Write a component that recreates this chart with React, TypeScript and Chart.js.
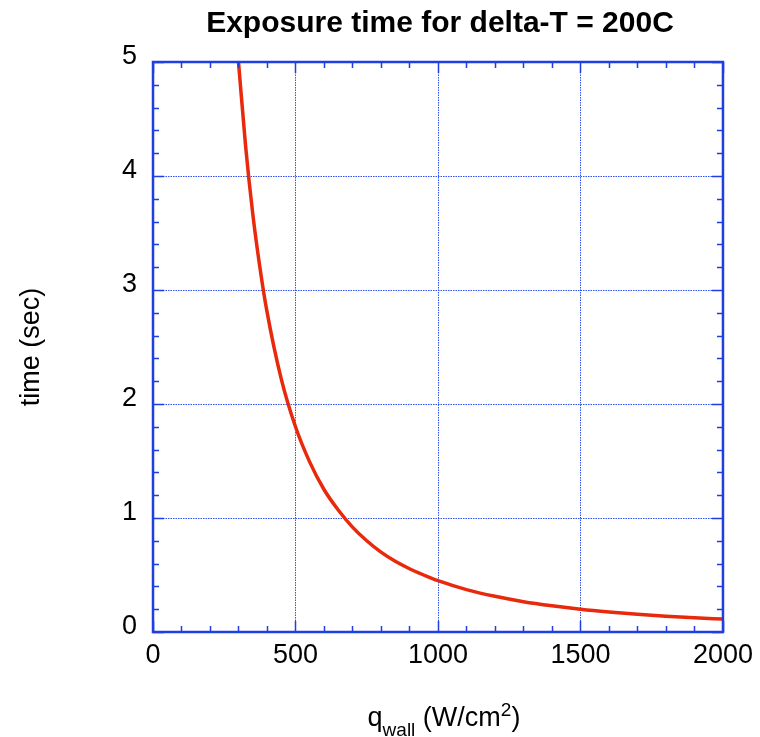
import React, { useEffect, useRef } from "react";
import { Chart, registerables } from "chart.js";

Chart.register(...registerables);

const chartTitle = "Exposure time for delta-T = 200C";
const yAxisTitle = "time (sec)";
const xTitleMain = "q";
const xTitleSub = "wall";
const xTitleRest = " (W/cm";
const xTitleSup = "2";
const xTitleEnd = ")";

const qValues = [300, 325, 350, 375, 400, 450, 500, 550, 600, 650, 700, 750, 800, 850, 900, 950, 1000, 1100, 1200, 1300, 1400, 1500, 1600, 1700, 1800, 1900, 2000];
const timeValues = [5.0, 4.26, 3.67, 3.2, 2.81, 2.22, 1.8, 1.49, 1.25, 1.07, 0.92, 0.8, 0.7, 0.62, 0.555, 0.5, 0.45, 0.372, 0.313, 0.266, 0.23, 0.2, 0.176, 0.156, 0.139, 0.125, 0.113];

const xMin = 0, xMax = 2000, xMajor = 500, xMinor = 100;
const yMin = 0, yMax = 5, yMajor = 1, yMinor = 0.2;

const FONT = "'Liberation Sans', Arial, Helvetica, sans-serif";
const BLUE = "#1f3fe0";
const GRID_BLUE = "#2f52f0";
const RED = "#e8290c";

const framePlugin = {
  id: "frameTicks",
  beforeDatasetsDraw(chart: any) {
    const { ctx, chartArea } = chart;
    const xs = chart.scales.x;
    const ys = chart.scales.y;
    const { left, right, top, bottom } = chartArea;
    ctx.save();
    ctx.strokeStyle = GRID_BLUE;
    ctx.lineWidth = 1;
    ctx.setLineDash([1.5, 1]);
    ctx.beginPath();
    for (let v = xMin + xMajor; v < xMax; v += xMajor) {
      const p = Math.round(xs.getPixelForValue(v)) + 0.5;
      ctx.moveTo(p, top); ctx.lineTo(p, bottom);
    }
    for (let v = yMin + yMajor; v < yMax; v += yMajor) {
      const p = Math.round(ys.getPixelForValue(v)) + 0.5;
      ctx.moveTo(left, p); ctx.lineTo(right, p);
    }
    ctx.stroke();
    ctx.restore();
  },
  afterDatasetsDraw(chart: any) {
    const { ctx, chartArea } = chart;
    const xs = chart.scales.x;
    const ys = chart.scales.y;
    const { left, right, top, bottom } = chartArea;
    ctx.save();
    ctx.strokeStyle = BLUE;
    ctx.lineWidth = 1.5;
    ctx.beginPath();
    for (let v = xMin; v <= xMax + 1e-6; v += xMinor) {
      const p = Math.round(xs.getPixelForValue(v)) + 0.5;
      const len = Math.abs(v % xMajor) < 1e-6 ? 11 : 6;
      ctx.moveTo(p, bottom); ctx.lineTo(p, bottom - len);
      ctx.moveTo(p, top); ctx.lineTo(p, top + len);
    }
    for (let i = 0; i <= Math.round((yMax - yMin) / yMinor); i++) {
      const v = yMin + i * yMinor;
      const p = Math.round(ys.getPixelForValue(v)) + 0.5;
      const len = i % Math.round(yMajor / yMinor) === 0 ? 11 : 6;
      ctx.moveTo(left, p); ctx.lineTo(left + len, p);
      ctx.moveTo(right, p); ctx.lineTo(right - len, p);
    }
    ctx.stroke();
    ctx.lineWidth = 2.5;
    ctx.strokeRect(left, top, right - left, bottom - top);
    ctx.restore();
  },
  afterDraw(chart: any) {
    const { ctx, chartArea } = chart;
    const cx = (chartArea.left + chartArea.right) / 2;
    ctx.save();
    ctx.fillStyle = "#000";
    ctx.textBaseline = "alphabetic";
    ctx.textAlign = "center";
    ctx.font = `bold 30px ${FONT}`;
    ctx.fillText(chartTitle, cx + 2, 32);

    const big = `27px ${FONT}`;
    const small = `19px ${FONT}`;
    const parts = [
      { t: xTitleMain, f: big, dy: 0 },
      { t: xTitleSub, f: small, dy: 10 },
      { t: xTitleRest, f: big, dy: 0 },
      { t: xTitleSup, f: small, dy: -10 },
      { t: xTitleEnd, f: big, dy: 0 },
    ];
    let total = 0;
    const widths = parts.map((p) => { ctx.font = p.f; const w = ctx.measureText(p.t).width; total += w; return w; });
    let x = cx + 6 - total / 2;
    const base = chartArea.bottom + 94;
    ctx.textAlign = "left";
    parts.forEach((p, i) => {
      ctx.font = p.f;
      ctx.fillText(p.t, x, base + p.dy);
      x += widths[i];
    });
    ctx.restore();
  },
};

export default function App() {
  const ref = useRef<HTMLCanvasElement>(null);
  useEffect(() => {
    document.body.style.margin = "0";
    const canvas = ref.current!;
    const chart = new Chart(canvas, {
      type: "line",
      data: {
        datasets: [
          {
            data: qValues.map((q, i) => ({ x: q, y: timeValues[i] })),
            borderColor: RED,
            borderWidth: 3.5,
            pointRadius: 0,
            fill: false,
            cubicInterpolationMode: "monotone",
          },
        ],
      },
      options: {
        animation: false,
        responsive: false,
        maintainAspectRatio: false,
        layout: { padding: { left: 0, right: 37, top: 62, bottom: 0 } },
        plugins: {
          legend: { display: false },
          tooltip: { enabled: false },
          title: { display: false },
        },
        scales: {
          x: {
            type: "linear",
            min: xMin,
            max: xMax,
            afterFit: (s: any) => { s.height = 105; },
            ticks: {
              stepSize: xMajor,
              color: "#000",
              font: { family: FONT, size: 27 },
              padding: 7,
              maxRotation: 0,
              callback: (v: any) => String(v),
            },
            grid: { display: false, drawTicks: false },
            border: { display: false },
          },
          y: {
            type: "linear",
            min: yMin,
            max: yMax,
            afterFit: (s: any) => { s.width = 153; },
            ticks: {
              stepSize: yMajor,
              color: "#000",
              font: { family: FONT, size: 27 },
              padding: 16,
              labelOffset: -5,
              callback: (v: any) => String(v),
            },
            grid: { display: false, drawTicks: false },
            border: { display: false },
            title: {
              display: true,
              text: yAxisTitle,
              color: "#000",
              font: { family: FONT, size: 27 },
              padding: { top: 15, bottom: 0 },
            },
          },
        },
      },
      plugins: [framePlugin],
    });
    return () => chart.destroy();
  }, []);
  return <canvas ref={ref} width={760} height={737} style={{ display: "block" }} />;
}
